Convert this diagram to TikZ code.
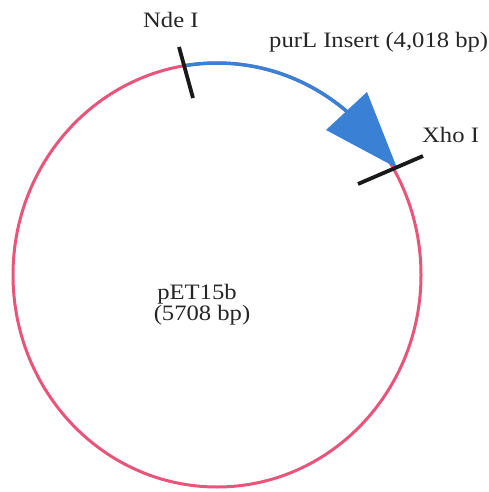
\documentclass[tikz,border=0pt]{standalone}
\usepackage{fontspec}
\usetikzlibrary{calc}
\setmainfont{Liberation Serif}[FakeStretch=1.12]
\definecolor{plasmid}{RGB}{232,84,122}
\definecolor{insert}{RGB}{58,128,212}
\tikzset{
  lbl/.style={inner sep=0pt, font=\fontsize{22}{26}\selectfont, text=black!85},
  tick/.style={line width=3.8pt, black!90},
}
\begin{document}
\begin{tikzpicture}[x=1pt,y=1pt]
\useasboundingbox (0,0) rectangle (489,-492);
\fill[white] (0,0) rectangle (489,-492);
% plasmid
\coordinate (c) at (217,-275);
\draw[plasmid, line width=3pt] (c) ellipse [x radius=204, y radius=212];
% insert arc
\draw[insert, line width=3.5pt] ($(c)+(99.3:204 and 212)$) arc[start angle=99.3, end angle=50, x radius=204, y radius=212];
% arrowhead
\coordinate (tip) at (397,-168);
\coordinate (b1) at (326,-130);
\coordinate (b2) at (367,-92);
\fill[insert] (tip) -- (b1) -- (b2) -- cycle;
% restriction site ticks
\coordinate (n1) at (179,-47);
\coordinate (n2) at (193,-98);
\coordinate (x1) at (358,-184);
\coordinate (x2) at (423,-156);
\draw[tick] (n1) -- (n2);
\draw[tick] (x1) -- (x2);
% labels
\node[lbl, anchor=base west] (nde) at (143,-28) {Nde I};
\node[lbl, anchor=base west] (purl) at (269,-48) {purL Insert (4,018 bp)};
\node[lbl, anchor=base west] (xho) at (422,-142) {Xho I};
\node[lbl, anchor=base] (pet) at (197,-299) {pET15b};
\node[lbl, anchor=base] (bp) at (202,-320) {(5708 bp)};
\end{tikzpicture}
\end{document}
